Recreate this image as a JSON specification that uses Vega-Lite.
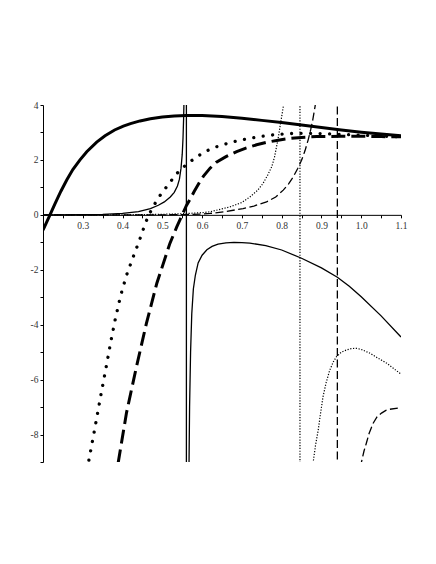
{
  "$schema": "https://vega.github.io/schema/vega-lite/v6.json",
  "width": 358,
  "height": 357,
  "autosize": "none",
  "padding": {"left": 43, "top": 105, "right": 35, "bottom": 102},
  "background": "white",
  "config": {
    "view": {"stroke": null},
    "axis": {"labelFont": "Liberation Serif", "labelFontSize": 9.5, "labelColor": "#333333", "domainColor": "#000000", "tickColor": "#000000", "grid": false, "title": null, "labelFlush": false, "labelOverlap": false}
  },
  "data": {"values": [
    {"s":"A","x":0.2,"y":-0.56},{"s":"A","x":0.2176,"y":0},{"s":"A","x":0.23,"y":0.4},{"s":"A","x":0.245,"y":0.86},{"s":"A","x":0.26,"y":1.28},{"s":"A","x":0.275,"y":1.65},{"s":"A","x":0.293,"y":2.0},{"s":"A","x":0.31,"y":2.3},{"s":"A","x":0.335,"y":2.65},{"s":"A","x":0.356,"y":2.88},{"s":"A","x":0.38,"y":3.09},{"s":"A","x":0.402,"y":3.23},{"s":"A","x":0.42,"y":3.32},{"s":"A","x":0.444,"y":3.42},{"s":"A","x":0.47,"y":3.5},{"s":"A","x":0.5,"y":3.56},{"s":"A","x":0.53,"y":3.6},{"s":"A","x":0.56,"y":3.62},{"s":"A","x":0.6,"y":3.62},{"s":"A","x":0.65,"y":3.58},{"s":"A","x":0.7,"y":3.52},{"s":"A","x":0.75,"y":3.44},{"s":"A","x":0.8,"y":3.36},{"s":"A","x":0.85,"y":3.27},{"s":"A","x":0.9,"y":3.18},{"s":"A","x":0.95,"y":3.09},{"s":"A","x":1.0,"y":3.01},{"s":"A","x":1.05,"y":2.94},{"s":"A","x":1.1,"y":2.88},

    {"s":"B","x":0.2,"y":0.0},{"s":"B","x":0.3,"y":0.01},{"s":"B","x":0.35,"y":0.02},{"s":"B","x":0.4,"y":0.05},{"s":"B","x":0.44,"y":0.12},{"s":"B","x":0.47,"y":0.23},{"s":"B","x":0.49,"y":0.35},{"s":"B","x":0.505,"y":0.47},{"s":"B","x":0.52,"y":0.65},{"s":"B","x":0.53,"y":0.82},{"s":"B","x":0.538,"y":1.05},{"s":"B","x":0.543,"y":1.3},{"s":"B","x":0.547,"y":1.7},{"s":"B","x":0.55,"y":2.2},{"s":"B","x":0.552,"y":2.8},{"s":"B","x":0.5535,"y":3.5},{"s":"B","x":0.555,"y":4.5},{"s":"B","x":0.5565,"y":8},{"s":"B","x":0.5605,"y":60},{"s":"B","x":0.5605,"y":-60},{"s":"B","x":0.5655,"y":-15},{"s":"B","x":0.5668,"y":-9.5},{"s":"B","x":0.5685,"y":-7},{"s":"B","x":0.571,"y":-5},{"s":"B","x":0.574,"y":-3.6},{"s":"B","x":0.578,"y":-2.7},{"s":"B","x":0.583,"y":-2.2},{"s":"B","x":0.59,"y":-1.75},{"s":"B","x":0.6,"y":-1.47},{"s":"B","x":0.612,"y":-1.27},{"s":"B","x":0.625,"y":-1.15},{"s":"B","x":0.64,"y":-1.07},{"s":"B","x":0.66,"y":-1.02},{"s":"B","x":0.68,"y":-1.0},{"s":"B","x":0.7,"y":-1.01},{"s":"B","x":0.72,"y":-1.03},{"s":"B","x":0.76,"y":-1.12},{"s":"B","x":0.8,"y":-1.28},{"s":"B","x":0.85,"y":-1.58},{"s":"B","x":0.9,"y":-1.93},{"s":"B","x":0.94,"y":-2.27},{"s":"B","x":0.97,"y":-2.6},{"s":"B","x":1.0,"y":-2.98},{"s":"B","x":1.05,"y":-3.68},{"s":"B","x":1.1,"y":-4.45},

    {"s":"C","x":0.3,"y":-10.3},{"s":"C","x":0.314,"y":-9.04},{"s":"C","x":0.33,"y":-7.8},{"s":"C","x":0.345,"y":-6.6},{"s":"C","x":0.36,"y":-5.45},{"s":"C","x":0.37,"y":-4.65},{"s":"C","x":0.381,"y":-3.85},{"s":"C","x":0.395,"y":-2.95},{"s":"C","x":0.41,"y":-2.2},{"s":"C","x":0.425,"y":-1.6},{"s":"C","x":0.438,"y":-1.1},{"s":"C","x":0.448,"y":-0.7},{"s":"C","x":0.456,"y":-0.36},{"s":"C","x":0.465,"y":-0.03},{"s":"C","x":0.477,"y":0.3},{"s":"C","x":0.49,"y":0.62},{"s":"C","x":0.507,"y":0.95},{"s":"C","x":0.52,"y":1.2},{"s":"C","x":0.536,"y":1.5},{"s":"C","x":0.554,"y":1.75},{"s":"C","x":0.574,"y":1.98},{"s":"C","x":0.594,"y":2.18},{"s":"C","x":0.615,"y":2.35},{"s":"C","x":0.64,"y":2.5},{"s":"C","x":0.67,"y":2.63},{"s":"C","x":0.7,"y":2.73},{"s":"C","x":0.73,"y":2.81},{"s":"C","x":0.76,"y":2.88},{"s":"C","x":0.79,"y":2.93},{"s":"C","x":0.82,"y":2.96},{"s":"C","x":0.85,"y":2.97},{"s":"C","x":0.9,"y":2.96},{"s":"C","x":0.95,"y":2.93},{"s":"C","x":1.0,"y":2.9},{"s":"C","x":1.05,"y":2.87},{"s":"C","x":1.1,"y":2.84},

    {"s":"D","x":0.38,"y":-10.5},{"s":"D","x":0.389,"y":-9.03},{"s":"D","x":0.41,"y":-7.2},{"s":"D","x":0.435,"y":-5.53},{"s":"D","x":0.46,"y":-3.95},{"s":"D","x":0.486,"y":-2.5},{"s":"D","x":0.519,"y":-1.04},{"s":"D","x":0.536,"y":-0.45},{"s":"D","x":0.55,"y":0.0},{"s":"D","x":0.561,"y":0.35},{"s":"D","x":0.569,"y":0.55},{"s":"D","x":0.58,"y":0.85},{"s":"D","x":0.594,"y":1.2},{"s":"D","x":0.603,"y":1.4},{"s":"D","x":0.62,"y":1.7},{"s":"D","x":0.636,"y":1.92},{"s":"D","x":0.66,"y":2.12},{"s":"D","x":0.687,"y":2.3},{"s":"D","x":0.71,"y":2.43},{"s":"D","x":0.737,"y":2.55},{"s":"D","x":0.765,"y":2.65},{"s":"D","x":0.791,"y":2.72},{"s":"D","x":0.82,"y":2.78},{"s":"D","x":0.85,"y":2.82},{"s":"D","x":0.888,"y":2.85},{"s":"D","x":0.95,"y":2.86},{"s":"D","x":1.0,"y":2.86},{"s":"D","x":1.05,"y":2.85},{"s":"D","x":1.1,"y":2.84},

    {"s":"E","x":0.2,"y":0.0},{"s":"E","x":0.4,"y":0.0},{"s":"E","x":0.5,"y":0.02},{"s":"E","x":0.55,"y":0.04},{"s":"E","x":0.6,"y":0.08},{"s":"E","x":0.62,"y":0.11},{"s":"E","x":0.67,"y":0.29},{"s":"E","x":0.7,"y":0.45},{"s":"E","x":0.72,"y":0.65},{"s":"E","x":0.74,"y":0.9},{"s":"E","x":0.753,"y":1.14},{"s":"E","x":0.765,"y":1.45},{"s":"E","x":0.775,"y":1.75},{"s":"E","x":0.782,"y":2.1},{"s":"E","x":0.787,"y":2.47},{"s":"E","x":0.792,"y":2.85},{"s":"E","x":0.797,"y":3.32},{"s":"E","x":0.802,"y":3.75},{"s":"E","x":0.806,"y":4.1},{"s":"E","x":0.812,"y":5},{"s":"E","x":0.82,"y":8},{"s":"E","x":0.846,"y":60},{"s":"E","x":0.846,"y":-60},{"s":"E","x":0.87,"y":-13},{"s":"E","x":0.879,"y":-9.04},{"s":"E","x":0.885,"y":-8.4},{"s":"E","x":0.892,"y":-7.83},{"s":"E","x":0.898,"y":-7.2},{"s":"E","x":0.904,"y":-6.62},{"s":"E","x":0.912,"y":-6.1},{"s":"E","x":0.921,"y":-5.65},{"s":"E","x":0.93,"y":-5.35},{"s":"E","x":0.938,"y":-5.16},{"s":"E","x":0.95,"y":-5.0},{"s":"E","x":0.963,"y":-4.92},{"s":"E","x":0.975,"y":-4.87},{"s":"E","x":0.988,"y":-4.86},{"s":"E","x":1.0,"y":-4.9},{"s":"E","x":1.022,"y":-5.04},{"s":"E","x":1.04,"y":-5.2},{"s":"E","x":1.064,"y":-5.4},{"s":"E","x":1.08,"y":-5.58},{"s":"E","x":1.1,"y":-5.8},

    {"s":"F","x":0.2,"y":0.0},{"s":"F","x":0.5,"y":0.0},{"s":"F","x":0.55,"y":0.01},{"s":"F","x":0.6,"y":0.03},{"s":"F","x":0.62,"y":0.05},{"s":"F","x":0.66,"y":0.12},{"s":"F","x":0.703,"y":0.23},{"s":"F","x":0.73,"y":0.32},{"s":"F","x":0.762,"y":0.47},{"s":"F","x":0.785,"y":0.65},{"s":"F","x":0.804,"y":0.9},{"s":"F","x":0.817,"y":1.12},{"s":"F","x":0.829,"y":1.38},{"s":"F","x":0.84,"y":1.68},{"s":"F","x":0.85,"y":1.99},{"s":"F","x":0.859,"y":2.35},{"s":"F","x":0.867,"y":2.75},{"s":"F","x":0.873,"y":3.1},{"s":"F","x":0.878,"y":3.44},{"s":"F","x":0.884,"y":3.95},{"s":"F","x":0.89,"y":4.6},{"s":"F","x":0.9,"y":6},{"s":"F","x":0.94,"y":60},{"s":"F","x":0.94,"y":-60},{"s":"F","x":0.99,"y":-11},{"s":"F","x":1.0,"y":-9.04},{"s":"F","x":1.007,"y":-8.6},{"s":"F","x":1.013,"y":-8.31},{"s":"F","x":1.02,"y":-7.95},{"s":"F","x":1.03,"y":-7.59},{"s":"F","x":1.04,"y":-7.35},{"s":"F","x":1.051,"y":-7.22},{"s":"F","x":1.062,"y":-7.12},{"s":"F","x":1.072,"y":-7.08},{"s":"F","x":1.092,"y":-7.04}
  ]},
  "encoding": {
    "x": {"field": "x", "type": "quantitative",
      "scale": {"domain": [0.2, 1.1], "nice": false, "zero": false},
      "axis": {"orient": "bottom", "offset": -247.15, "values": [0.2,0.25,0.3,0.35,0.4,0.45,0.5,0.55,0.6,0.65,0.7,0.75,0.8,0.85,0.9,0.95,1.0,1.05,1.1],
        "labelExpr": "datum.value > 0.25 && abs(datum.value*10 - round(datum.value*10)) < 0.01 ? format(datum.value, '.1f') : ''",
        "tickSize": 3, "labelPadding": 3}},
    "y": {"field": "y", "type": "quantitative",
      "scale": {"domain": [-9, 4], "nice": false, "zero": false},
      "axis": {"orient": "left", "values": [-9,-8,-7,-6,-5,-4,-3,-2,-1,0,1,2,3,4],
        "labelExpr": "datum.value % 2 == 0 ? toString(datum.value) : ''",
        "tickSize": 3, "labelPadding": 2}},
    "order": {"value": null}
  },
  "layer": [
    {"transform": [{"filter": "datum.s == 'A'"}], "mark": {"type": "line", "clip": true, "color": "black", "strokeWidth": 3}},
    {"transform": [{"filter": "datum.s == 'B'"}], "mark": {"type": "line", "clip": true, "color": "black", "strokeWidth": 1.3}},
    {"transform": [{"filter": "datum.s == 'C'"}], "mark": {"type": "line", "clip": true, "color": "black", "strokeWidth": 3.3, "strokeCap": "round", "strokeDash": [0.01, 9.5]}},
    {"transform": [{"filter": "datum.s == 'D'"}], "mark": {"type": "line", "clip": true, "color": "black", "strokeWidth": 3, "strokeDash": [14, 6]}},
    {"transform": [{"filter": "datum.s == 'E'"}], "mark": {"type": "line", "clip": true, "color": "black", "strokeWidth": 1.2, "strokeDash": [1.2, 1.6]}},
    {"transform": [{"filter": "datum.s == 'F'"}], "mark": {"type": "line", "clip": true, "color": "black", "strokeWidth": 1.3, "strokeDash": [8, 3.5]}}
  ]
}
